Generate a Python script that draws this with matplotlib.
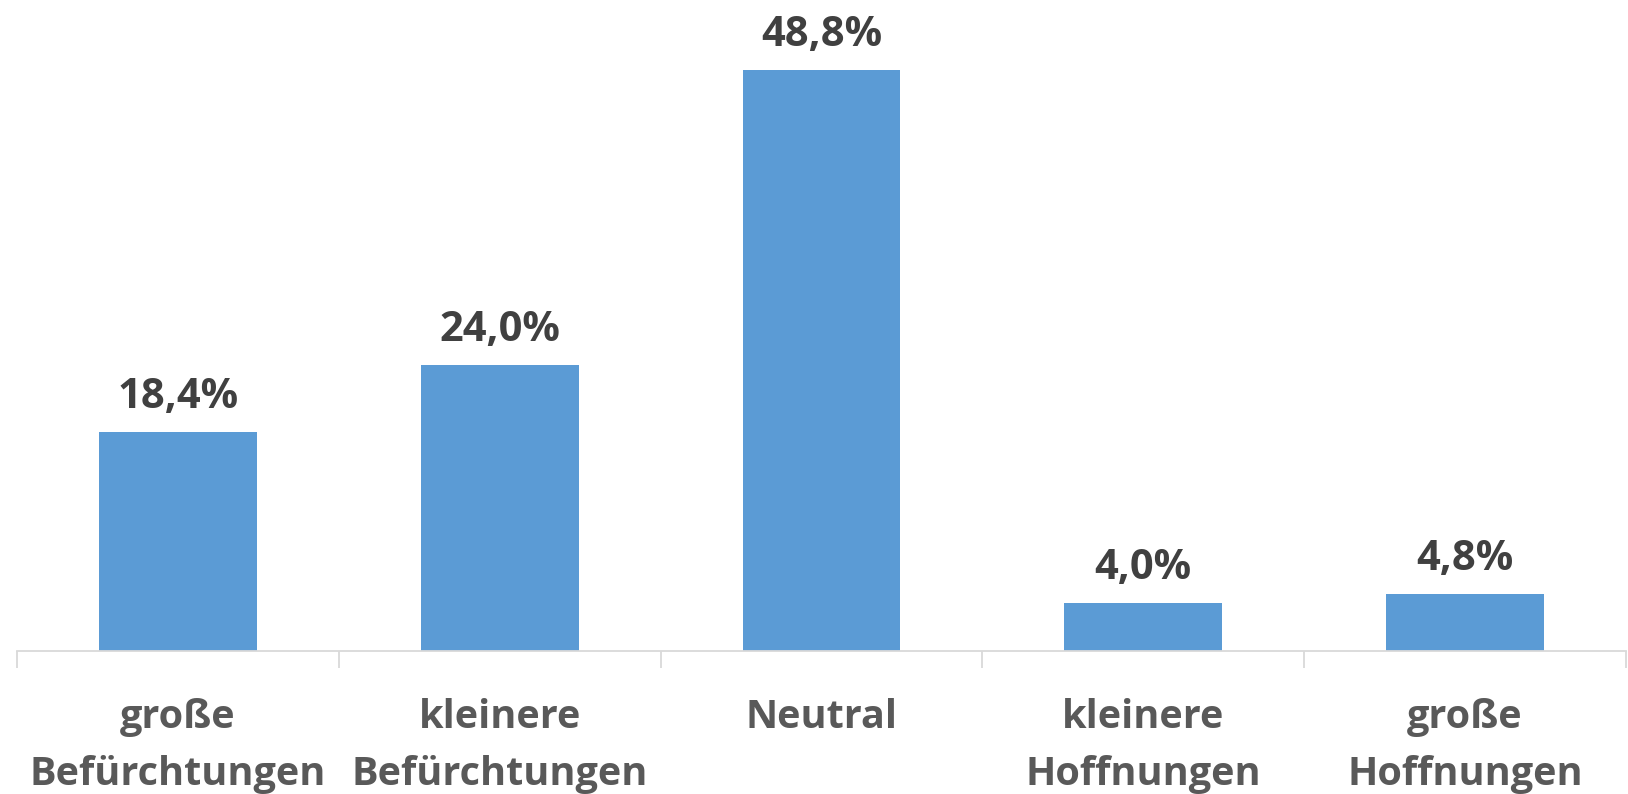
import matplotlib
matplotlib.use("Agg")
import matplotlib.pyplot as plt

categories = ["große\nBefürchtungen", "kleinere\nBefürchtungen", "Neutral", "kleinere\nHoffnungen", "große\nHoffnungen"]
values = [18.4, 24.0, 48.8, 4.0, 4.8]
labels = ["18,4%", "24,0%", "48,8%", "4,0%", "4,8%"]

fig = plt.figure(figsize=(16.28, 7.94), dpi=100)
ax = fig.add_axes([17/1628, 143/794, 1609/1628, 651/794])
x = range(len(categories))
bars = ax.bar(x, values, width=0.49, color="#5B9BD5")
ax.set_xlim(-0.5, len(categories) - 0.5)
ax.set_ylim(0, 54.68)

for xi, v, lab in zip(x, values, labels):
    ax.annotate(lab, (xi, v), xytext=(0, 10), textcoords="offset points",
                ha="center", va="bottom", fontsize=30, fontweight="bold",
                color="#404040", family="Open Sans")

for s in ["top", "right", "left"]:
    ax.spines[s].set_visible(False)
ax.spines["bottom"].set_color("#d9d9d9")
ax.spines["bottom"].set_linewidth(1.3)
ax.set_yticks([])
ax.set_xticks([i - 0.5 for i in range(len(categories) + 1)], minor=False)
ax.set_xticklabels([])
ax.tick_params(axis="x", which="major", length=12, color="#d9d9d9", width=1.3)
ax.set_xticks(list(x), minor=True)
ax.set_xticklabels(categories, minor=True, fontsize=28.5, fontweight="bold",
                   color="#595959", family="Open Sans", linespacing=1.6)
ax.tick_params(axis="x", which="minor", length=0, pad=34)

fig.savefig("out.png", dpi=100)
